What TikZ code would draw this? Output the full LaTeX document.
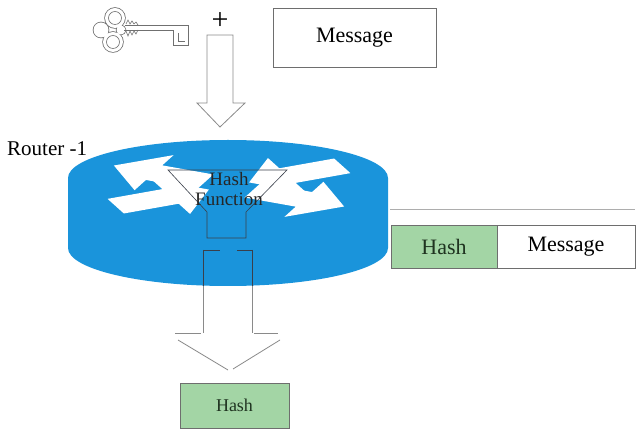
\documentclass[tikz,border=0pt]{standalone}
\usepackage{fontspec}
\setmainfont{Liberation Serif}
\usetikzlibrary{calc}
\definecolor{routerblue}{HTML}{1A94DB}
\definecolor{keygray}{HTML}{707070}
\definecolor{boxline}{HTML}{6E6E6E}
\definecolor{arrowgray}{HTML}{8A8A8A}
\definecolor{hashgreen}{HTML}{A3D5A5}
\definecolor{hashtext}{HTML}{1F3320}
\definecolor{funnelline}{HTML}{3A3F4A}

\begin{document}
\begin{tikzpicture}[x=1pt,y=-1pt,
    box/.style={draw=boxline, line width=0.8pt, inner sep=0pt, font=\fontsize{22}{24}\selectfont},
    greenbox/.style={box, fill=hashgreen, text=hashtext},
    hollow/.style={draw=arrowgray, line width=0.8pt, fill=white}]
    \useasboundingbox (0,0) rectangle (638,430);
    % Draw key
    \fill[keygray] (115,18) circle (10.8) (113,42) circle (10.8) (101,30) circle (8.3) (121,30) circle (5.3);
    \fill[white] (115,18) circle (10) (113,42) circle (10) (101,30) circle (7.5) (121,30) circle (4.5);
    \draw[keygray, line width=0.6pt] (115,18) circle (6.5) (113,42) circle (6.5);
    \draw[keygray, line width=0.6pt] (125,25) -- (188,25) -- (188,45) -- (173,45) -- (173,30) -- (124,30);
    \draw[keygray, line width=0.6pt] (178,33) -- (178,41) -- (185,41);
    \draw[keygray, line width=0.6pt] (126,24) -- (128,20) -- (130,24) -- (132,21) -- (134,24) -- (136,22) -- (138,25);
    \draw[keygray, line width=0.6pt] (126,31) -- (128,36) -- (130,31) -- (132,35) -- (134,31) -- (136,34) -- (138,30);
    % Draw plus sign and message
    \node[font=\fontsize{30}{32}\selectfont, inner sep=0pt] (plus) at (220,21) {+};
    \node[box, minimum width=163pt, minimum height=59pt] (msgtop) at (354.5,37.5) {Message};
    % Draw hollow arrow into router
    \draw[hollow] (207,35) -- (207,103) -- (197,103) -- (220,127) -- (245,103) -- (233,103) -- (233,35) -- cycle;
    % Draw router body
    \fill[routerblue] (68,178) -- (68,248) arc[start angle=180, end angle=0, x radius=160, y radius=38]
        -- (388,178) arc[start angle=0, end angle=-180, x radius=160, y radius=38] -- cycle;
    \node[font=\fontsize{21}{23}\selectfont, anchor=base west, inner sep=0pt] (routerlbl) at (7,156) {Router -1};
    % Draw router arrows
    \begin{scope}[shift={(229,186)}, yscale=0.4]
        \foreach \ang in {-24, 156}
            \fill[white, rotate=\ang] (26,-20) -- (82,-20) -- (82,-48) -- (126,0) -- (82,48) -- (82,20) -- (26,20) -- cycle;
        \foreach \ang in {-156, 24}
            \fill[white, rotate=\ang] (22,0) -- (64,-48) -- (64,-20) -- (124,-20) -- (124,20) -- (64,20) -- (64,48) -- cycle;
    \end{scope}
    % Draw hash function funnel
    \draw[funnelline, line width=0.6pt] (168,170) -- (287,170) -- (246,212) -- (246,238) -- (207,238) -- (207,212) -- cycle;
    \node[font=\fontsize{19}{20}\selectfont, align=center, inner sep=0pt, text=black!85] (hashfn) at (229,189) {Hash\\Function};
    % Draw hollow arrow out of router
    \draw[funnelline, line width=0.7pt] (203,250) -- (220,250) (237,250) -- (252,250);
    \draw[funnelline, line width=0.7pt] (203,250) -- (203,286) (252,250) -- (252,286);
    \draw[arrowgray, line width=0.8pt] (203,286) -- (203,333) (252,286) -- (252,333);
    \draw[arrowgray, line width=0.8pt] (175,333) -- (201,333) (254,333) -- (278,333);
    \draw[arrowgray, line width=0.8pt] (178,340) -- (228,370) (280,340) -- (233,369);
    % Draw hash and message boxes
    \draw[arrowgray!70, line width=1pt] (390,210) -- (635,210);
    \node[greenbox, minimum width=106pt, minimum height=43pt] (hashout) at (444,246.5) {Hash};
    \node[box, minimum width=138pt, minimum height=43pt] (msgout) at (566,246.5) {Message};
    \node[greenbox, minimum width=109pt, minimum height=45pt, font=\fontsize{18}{20}\selectfont] (hashbox) at (234.5,405.5) {Hash};
\end{tikzpicture}
\end{document}
